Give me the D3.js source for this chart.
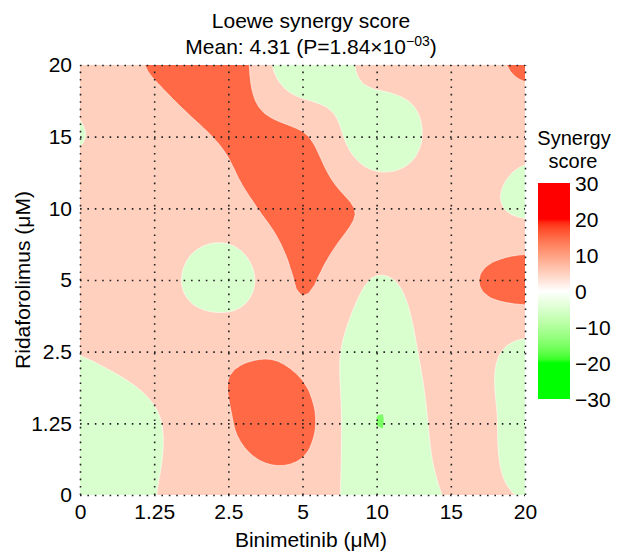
<!DOCTYPE html>
<html>
<head>
<meta charset="utf-8">
<script src="https://cdn.jsdelivr.net/npm/d3@7"></script>
<style>
  html, body { margin: 0; padding: 0; background: #fff; }
  svg text { font-family: "Liberation Sans", Arial, Helvetica, sans-serif; fill: #000; }
</style>
</head>
<body>
<svg id="chart" width="617" height="553"></svg>
<script>
// Dose levels (µM)
const binimetinibDoses = ["0", "1.25", "2.5", "5", "10", "15", "20"];
const ridaforolimusDoses = ["0", "1.25", "2.5", "5", "10", "15", "20"];

// Loewe synergy scores: one array per Ridaforolimus dose, values across Binimetinib doses
const scoresRida0    = [-4.0, -0.2,  6.0,  6.0,  -5.0, 0.5, -0.1];
const scoresRida1_25 = [-4.0, -0.8,  9.5, 13.0, -10.05, 4.0, -3.0];
const scoresRida2_5  = [ 0.2,  3.3,  8.5,  8.0,  -6.0, 5.0, -2.5];
const scoresRida5    = [ 3.0,  3.5, -5.0, 10.8,  -0.5, 7.0, 14.0];
const scoresRida10   = [ 3.0,  5.0,  7.0, 14.0,   8.0, 5.0, -1.5];
const scoresRida15   = [-0.2,  4.5, 11.0, 11.0,  -7.0, 5.0,  3.0];
const scoresRida20   = [ 2.0, 11.0, 16.0, -9.0,   4.0, 4.0, 11.5];
const scoreRows = [scoresRida0, scoresRida1_25, scoresRida2_5, scoresRida5,
                   scoresRida10, scoresRida15, scoresRida20];

// Contour band edges and colour-bar labels
const contourLevels = [-30, -20, -10, 0, 10, 20];
const legendTicks = [30, 20, 10, 0, -10, -20, -30];

const titleLine1 = "Loewe synergy score";
const meanText = "Mean: 4.31 (P=1.84\u00d710";
const meanExponent = "\u221203";

const svg = d3.select("#chart");
const FONT = 21;

// Plot frame
const plotL = 80, plotR = 525, plotT = 65, plotB = 495;

const x = d3.scalePoint().domain(binimetinibDoses).range([plotL, plotR]);
const y = d3.scalePoint().domain(ridaforolimusDoses).range([plotB, plotT]);

// Colour ramp green -> white -> red, clamped beyond ±20
const color = d3.scaleLinear()
  .domain([-20, 0, 20])
  .range(["#00ff00", "#ffffff", "#ff0000"])
  .interpolate(d3.interpolateLab)
  .clamp(true);

// Refine the dose grid with Catmull-Rom (bicubic) interpolation for smooth contours
const K = 12;
const nC = binimetinibDoses.length, nR = ridaforolimusDoses.length;
const W = (nC - 1) * K + 1, H = (nR - 1) * K + 1;
const cr = (p0, p1, p2, p3, t) =>
  p1 + 0.5 * t * (p2 - p0 + t * (2 * p0 - 5 * p1 + 4 * p2 - p3 + t * (3 * (p1 - p2) + p3 - p0)));
const at = (j, i) => scoreRows[Math.max(0, Math.min(nR - 1, j))][Math.max(0, Math.min(nC - 1, i))];
const field = new Array(W * H);
for (let r = 0; r < H; r++) {
  const gy = r / K, j = Math.min(Math.floor(gy), nR - 2), ty = gy - j;
  for (let c = 0; c < W; c++) {
    const gx = c / K, i = Math.min(Math.floor(gx), nC - 2), tx = gx - i;
    const col = [-1, 0, 1, 2].map(dj =>
      cr(at(j + dj, i - 1), at(j + dj, i), at(j + dj, i + 1), at(j + dj, i + 2), tx));
    field[r * W + c] = cr(col[0], col[1], col[2], col[3], ty);
  }
}

const contours = d3.contours().size([W, H]).thresholds(contourLevels)(field);

// Contour grid coordinates -> pixels (sample k sits at k + 0.5)
const cx = d3.scaleLinear().domain([0.5, W - 0.5]).range([plotL, plotR]);
const cy = d3.scaleLinear().domain([0.5, H - 0.5]).range([plotB, plotT]);
const path = d3.geoPath(d3.geoTransform({
  point(px, py) { this.stream.point(cx(px), cy(py)); }
}));

const defs = svg.append("defs");
defs.append("clipPath").attr("id", "plotClip")
  .append("rect").attr("x", plotL).attr("y", plotT)
  .attr("width", plotR - plotL).attr("height", plotB - plotT);

svg.append("g").attr("clip-path", "url(#plotClip)")
  .selectAll("path")
  .data(contours)
  .join("path")
  .attr("d", path)
  .attr("fill", d => color(d.value + 5))
  .attr("stroke", "#ffffff")
  .attr("stroke-width", 0.7)
  .attr("stroke-opacity", 0.75);

// Dotted grid at every dose level
const dotted = sel => sel.selectAll("line")
  .attr("stroke", "#222")
  .attr("stroke-width", 1.6)
  .attr("stroke-dasharray", "1.6,5.8");

svg.append("g")
  .attr("transform", `translate(0,${plotB})`)
  .call(d3.axisBottom(x).tickSize(-(plotB - plotT)).tickFormat(""))
  .call(g => g.select(".domain").remove())
  .call(dotted);

svg.append("g")
  .attr("transform", `translate(${plotL},0)`)
  .call(d3.axisLeft(y).tickSize(-(plotR - plotL)).tickFormat(""))
  .call(g => g.select(".domain").remove())
  .call(dotted);

// Axis tick labels
svg.append("g")
  .attr("transform", `translate(0,${plotB})`)
  .call(d3.axisBottom(x).tickSize(0).tickPadding(9))
  .call(g => g.select(".domain").remove())
  .selectAll("text").attr("font-size", FONT);

svg.append("g")
  .attr("transform", `translate(${plotL},0)`)
  .call(d3.axisLeft(y).tickSize(0).tickPadding(8))
  .call(g => g.select(".domain").remove())
  .selectAll("text").attr("font-size", FONT);

// Axis titles
svg.append("text")
  .attr("x", 311).attr("y", 547)
  .attr("text-anchor", "middle").attr("font-size", FONT)
  .text("Binimetinib (\u03bcM)");

svg.append("text")
  .attr("transform", `translate(30,${(plotT + plotB) / 2}) rotate(-90)`)
  .attr("text-anchor", "middle").attr("font-size", FONT)
  .text("Ridaforolimus (\u03bcM)");

// Title
svg.append("text")
  .attr("x", 311).attr("y", 28)
  .attr("text-anchor", "middle").attr("font-size", FONT)
  .text(titleLine1);

const t2 = svg.append("text")
  .attr("x", 311).attr("y", 54)
  .attr("text-anchor", "middle").attr("font-size", FONT);
t2.append("tspan").text(meanText);
t2.append("tspan").attr("dy", -8).attr("font-size", 14).text(meanExponent);
t2.append("tspan").attr("dy", 8).text(")");

// Colour bar
const barX = 538, barW = 32, barTop = 183, barBottom = 399;
const legendY = d3.scaleLinear().domain([30, -30]).range([barTop, barBottom]);

const grad = defs.append("linearGradient")
  .attr("id", "synergyGrad")
  .attr("x1", 0).attr("y1", 0).attr("x2", 0).attr("y2", 1);
grad.selectAll("stop")
  .data(d3.range(30, -30.1, -1))
  .join("stop")
  .attr("offset", v => (30 - v) / 60)
  .attr("stop-color", v => color(v));

svg.append("rect")
  .attr("x", barX).attr("y", barTop)
  .attr("width", barW).attr("height", barBottom - barTop)
  .attr("fill", "url(#synergyGrad)");

svg.append("g")
  .selectAll("text")
  .data(legendTicks)
  .join("text")
  .attr("x", barX + barW + 5)
  .attr("y", d => legendY(d))
  .attr("dy", "0.36em")
  .attr("font-size", FONT)
  .text(d => d < 0 ? "\u2212" + Math.abs(d) : String(d));

// Colour-bar heading on two lines
svg.append("text")
  .attr("x", 574).attr("y", 145)
  .attr("text-anchor", "middle").attr("font-size", 20)
  .text("Synergy");
svg.append("text")
  .attr("x", 573).attr("y", 168)
  .attr("text-anchor", "middle").attr("font-size", 20)
  .text("score");
</script>
</body>
</html>
